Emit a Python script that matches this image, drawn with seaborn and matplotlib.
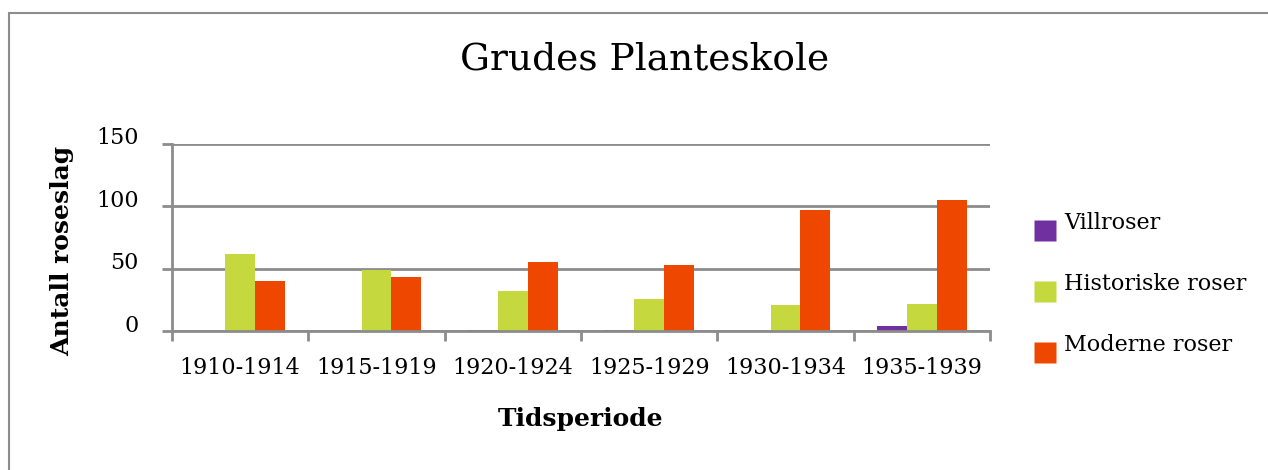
import matplotlib
matplotlib.use("Agg")
import matplotlib.pyplot as plt
import matplotlib.transforms as mtransforms
from matplotlib.lines import Line2D
import seaborn as sns
import pandas as pd

# data
perioder = ['1910-1914', '1915-1919', '1920-1924', '1925-1929', '1930-1934', '1935-1939']
villroser = [0, 0, 1, 1, 0, 4]
historiske = [62, 49, 32, 26, 21, 22]
moderne = [40, 43, 55, 53, 97, 105]
serier = ['Villroser', 'Historiske roser', 'Moderne roser']
farger = ['#7030a0', '#c5d83e', '#ee4800']

df = pd.DataFrame({
    'Tidsperiode': perioder * 3,
    'Serie': [s for s in serier for _ in perioder],
    'Antall': villroser + historiske + moderne,
})

sns.set_style('white')
plt.rcParams['font.family'] = ['DejaVu Serif']
plt.rcParams['text.color'] = 'black'
plt.rcParams['axes.labelcolor'] = 'black'
plt.rcParams['xtick.labelcolor'] = 'black'
plt.rcParams['ytick.labelcolor'] = 'black'
grå = '#8c8c8c'

fig = plt.figure(figsize=(12.68, 4.7), dpi=100)
ax = fig.add_axes([172 / 1268, 1 - 331 / 470, 818 / 1268, 187 / 470])

ax.set_axisbelow(True)
ax.yaxis.grid(True, color=grå, linewidth=2)
sns.barplot(data=df, x='Tidsperiode', y='Antall', hue='Serie', order=perioder,
            hue_order=serier, palette=farger, saturation=1, width=0.66, gap=0,
            edgecolor='none', linewidth=0, ax=ax, legend=False)

ax.set_ylim(0, 150)
ax.set_yticks([0, 50, 100, 150])
ax.set_xlim(-0.5, 5.5)

for side in ['top', 'right']:
    ax.spines[side].set_visible(False)
for side in ['left', 'bottom']:
    ax.spines[side].set_color(grå)
    ax.spines[side].set_linewidth(2)

ax.tick_params(axis='y', length=7, width=2, color=grå, pad=17,
               labelsize=16, left=True)
ax.tick_params(axis='x', which='major', length=0, pad=19, labelsize=16)
ax.set_xticks([i - 0.5 for i in range(len(perioder) + 1)], minor=True)
ax.tick_params(axis='x', which='minor', length=7, width=2, color=grå,
               bottom=True)

# y-tallene står litt over linjene
løft = mtransforms.ScaledTranslation(0, 8 / 100, fig.dpi_scale_trans)
for lbl in ax.get_yticklabels():
    lbl.set_transform(lbl.get_transform() + løft)

ax.set_xlabel('Tidsperiode', fontsize=18, fontweight='bold', labelpad=20)
ax.set_ylabel('Antall roseslag', fontsize=18, fontweight='bold')
ax.yaxis.set_label_coords(-0.12, 0.43)

fig.text(645 / 1268, 1 - 60 / 470, 'Grudes Planteskole', ha='center',
         va='center', fontsize=27)

# kvadratene i forklaringen sitter litt under teksten
firkant = [(-1, -1.9), (1, -1.9), (1, 0.1), (-1, 0.1), (-1, -1.9)]
handles = [Line2D([], [], marker=firkant, linestyle='none', markersize=29,
                  markerfacecolor=c, markeredgecolor='none') for c in farger]
fig.legend(handles, serier, loc='center left',
           bbox_to_anchor=(1014 / 1268, 1 - 284 / 470), frameon=False,
           fontsize=16, labelspacing=1.75, handletextpad=0.35,
           handlelength=1.0)

# ramme rundt figuren (bare topp og venstre synlig)
fig.add_artist(Line2D([9 / 1268, 1], [1 - 13 / 470, 1 - 13 / 470],
                      transform=fig.transFigure, color=grå, linewidth=1.5))
fig.add_artist(Line2D([9 / 1268, 9 / 1268], [0, 1 - 13 / 470],
                      transform=fig.transFigure, color=grå, linewidth=1.5))

fig.savefig('out.png', dpi=100)
